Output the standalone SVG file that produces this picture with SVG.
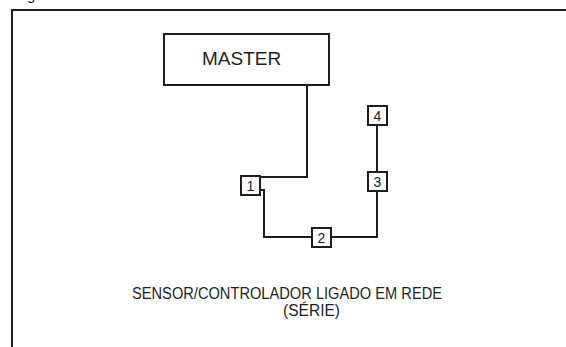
<svg xmlns="http://www.w3.org/2000/svg" width="566" height="347" viewBox="0 0 566 347">
<style>
.ln{fill:none;stroke:#1e1e1e;stroke-width:2}
.box{fill:#fff;stroke:#1e1e1e;stroke-width:2}
.t{font-family:"Liberation Sans",Arial,sans-serif;fill:#1e1e1e}
.n{font-size:14px;text-anchor:middle}
</style>
<rect width="566" height="347" fill="#fff"/>
<text class="t" x="27" y="-0.5" font-size="15">g</text>
<path class="ln" d="M12,347 V10 H566"/>
<g id="connectors">
<path class="ln" d="M307,85 V177 H260"/>
<path class="ln" d="M260,190 H264 V237 H312"/>
<path class="ln" d="M330,237 H377 V191"/>
<path class="ln" d="M377,172 V125"/>
</g>
<g id="master">
<rect class="box" x="164" y="34" width="165" height="51"/>
<text class="t" x="202" y="65" font-size="19">MASTER</text>
</g>
<g id="n1">
<rect class="box" x="241" y="176" width="19" height="19"/>
<text class="t n" x="250.5" y="190.5">1</text>
</g>
<g id="n2">
<rect class="box" x="312" y="228" width="19" height="19"/>
<text class="t n" x="321.5" y="242.5">2</text>
</g>
<g id="n3">
<rect class="box" x="368" y="172" width="19" height="19"/>
<text class="t n" x="377.5" y="186.5">3</text>
</g>
<g id="n4">
<rect class="box" x="368" y="106" width="19" height="19"/>
<text class="t n" x="377.5" y="120.5">4</text>
</g>
<g id="caption">
<text class="t" x="132" y="299" font-size="16" textLength="310" lengthAdjust="spacingAndGlyphs">SENSOR/CONTROLADOR LIGADO EM REDE</text>
<text class="t" x="283" y="315.5" font-size="16" textLength="57" lengthAdjust="spacingAndGlyphs">(SÉRIE)</text>
</g>
</svg>
